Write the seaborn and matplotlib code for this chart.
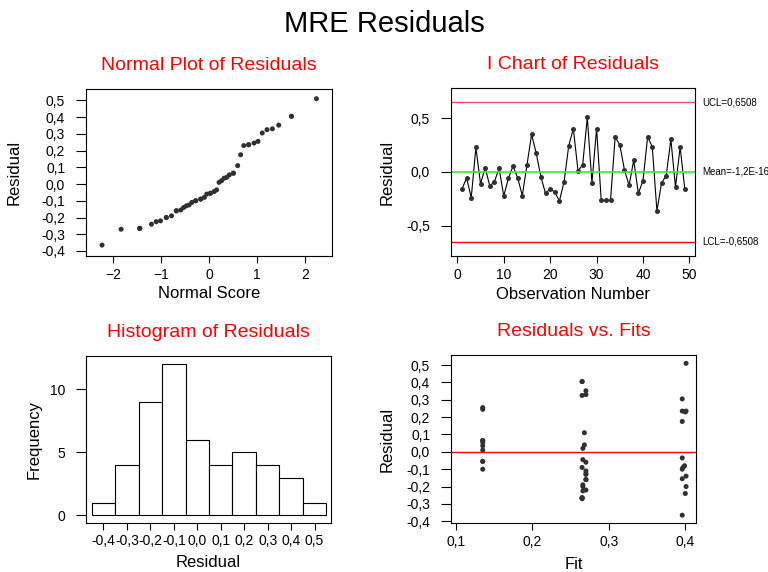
import numpy as np
import pandas as pd
import matplotlib
matplotlib.use("Agg")
import matplotlib.pyplot as plt
import seaborn as sns
from matplotlib.ticker import FuncFormatter
from statistics import NormalDist

# residuals in observation order
residuals = [-0.16, -0.055, -0.24, 0.23, -0.11, 0.04, -0.13, -0.09, 0.035, -0.225,
             -0.06, 0.055, -0.055, -0.22, 0.065, 0.352, 0.175, -0.045, -0.2, -0.155,
             -0.19, -0.27, -0.09, 0.245, 0.405, 0.01, 0.065, 0.51, -0.1, 0.405,
             -0.265, -0.265, -0.265, 0.325, 0.255, 0.02, -0.125, 0.11, -0.2, -0.08,
             0.33, 0.235, -0.365, -0.1, -0.035, 0.305, -0.14, 0.235, -0.16]
fits = [0.27, 0.135, 0.40, 0.40, 0.27, 0.268, 0.27, 0.397, 0.135, 0.266,
        0.27, 0.135, 0.135, 0.27, 0.135, 0.27, 0.396, 0.266, 0.266, 0.396,
        0.266, 0.265, 0.265, 0.135, 0.265, 0.135, 0.135, 0.401, 0.135, 0.265,
        0.265, 0.265, 0.265, 0.265, 0.135, 0.266, 0.27, 0.268, 0.401, 0.399,
        0.27, 0.396, 0.396, 0.396, 0.396, 0.396, 0.401, 0.401, 0.27]
ucl = 0.6508
lcl = -0.6508
hist_bins = [-0.45, -0.35, -0.25, -0.15, -0.05, 0.05, 0.15, 0.25, 0.35, 0.45, 0.55]

n = len(residuals)
df = pd.DataFrame({"obs": np.arange(1, n + 1), "resid": residuals, "fit": fits})
ranks = df["resid"].rank(method="average")
df["nscore"] = [NormalDist().inv_cdf((r - 0.375) / (n + 0.25)) for r in ranks]

sns.set_style("ticks")
plt.rcParams["font.family"] = ["Liberation Sans", "DejaVu Sans"]
plt.rcParams["axes.linewidth"] = 0.8
plt.rcParams["xtick.labelsize"] = 10
plt.rcParams["ytick.labelsize"] = 10
plt.rcParams["axes.labelsize"] = 12
plt.rcParams["text.color"] = "black"
plt.rcParams["axes.labelcolor"] = "black"

comma = FuncFormatter(lambda v, p: f"{v:.1f}".replace(".", ",").replace("-0,0", "0,0"))
intfmt = FuncFormatter(lambda v, p: f"{v:.0f}")
dot_color = "#303030"

fig = plt.figure(figsize=(7.68, 5.72), dpi=100)
fig.suptitle("MRE Residuals", fontsize=21, y=0.983, color="black")

W, H = 768, 572
def box(l, t, r, b):
    return [l / W, 1 - b / H, (r - l) / W, (b - t) / H]

ax1 = fig.add_axes(box(86, 89, 332, 256))
ax2 = fig.add_axes(box(451, 88, 695, 256))
ax3 = fig.add_axes(box(86, 356, 331, 523))
ax4 = fig.add_axes(box(451, 355, 696, 523))

# normal plot
sns.scatterplot(data=df, x="nscore", y="resid", ax=ax1, color=dot_color, s=13,
                edgecolor="none", linewidth=0)
ax1.set_xlim(-2.57, 2.56)
ax1.set_ylim(-0.43, 0.568)
ax1.set_xticks([-2, -1, 0, 1, 2])
ax1.set_yticks(np.arange(-0.4, 0.51, 0.1))
ax1.yaxis.set_major_formatter(comma)
ax1.set_xlabel("Normal Score")
ax1.set_ylabel("Residual")
ax1.set_title("Normal Plot of Residuals", color="red", fontsize=14, pad=14)
ax1.yaxis.set_label_coords(-0.26, 0.5)
ax1.xaxis.set_label_coords(0.5, -0.18)

# I chart
sns.lineplot(data=df, x="obs", y="resid", ax=ax2, color="black", linewidth=0.8,
             marker="o", markersize=3.6, markeredgewidth=0, markerfacecolor=dot_color)
ax2.axhline(ucl, color="#f05050", linewidth=1)
ax2.axhline(lcl, color="red", linewidth=1)
ax2.axhline(0, color="#33ee33", linewidth=1.2)
ax2.set_xlim(-1.36, 51.2)
ax2.set_ylim(-0.785, 0.785)
ax2.set_xticks([0, 10, 20, 30, 40, 50])
ax2.set_yticks([-0.5, 0, 0.5])
ax2.yaxis.set_major_formatter(comma)
ax2.set_xlabel("Observation Number")
ax2.set_ylabel("Residual")
ax2.set_title("I Chart of Residuals", color="red", fontsize=14, pad=14)
ax2.yaxis.set_label_coords(-0.23, 0.5)
ax2.xaxis.set_label_coords(0.5, -0.187)
for yv, txt in [(ucl, "UCL=0,6508"), (0, "Mean=-1,2E-16"), (lcl, "LCL=-0,6508")]:
    ax2.text(1.03, yv, txt, transform=ax2.get_yaxis_transform(), fontsize=7,
             va="center", ha="left", clip_on=False)

# histogram
sns.histplot(x=residuals, bins=hist_bins, ax=ax3, color="white", edgecolor="black",
             linewidth=0.8, alpha=1)
ax3.set_xlim(-0.474, 0.570)
ax3.set_ylim(-0.607, 12.64)
ax3.set_xticks(np.arange(-0.4, 0.51, 0.1))
ax3.xaxis.set_major_formatter(comma)
ax3.set_yticks([0, 5, 10])
ax3.yaxis.set_major_formatter(intfmt)
ax3.set_xlabel("Residual")
ax3.set_ylabel("Frequency")
ax3.set_title("Histogram of Residuals", color="red", fontsize=14, pad=14)
ax3.yaxis.set_label_coords(-0.18, 0.5)
ax3.xaxis.set_label_coords(0.5, -0.19)

# residuals vs fits
sns.scatterplot(data=df, x="fit", y="resid", ax=ax4, color=dot_color, s=13,
                edgecolor="none", linewidth=0)
ax4.axhline(0, color="red", linewidth=1)
ax4.set_xlim(0.0935, 0.414)
ax4.set_ylim(-0.41, 0.558)
ax4.set_xticks([0.1, 0.2, 0.3, 0.4])
ax4.xaxis.set_major_formatter(comma)
ax4.set_yticks(np.arange(-0.4, 0.51, 0.1))
ax4.yaxis.set_major_formatter(comma)
ax4.set_xlabel("Fit")
ax4.set_ylabel("Residual")
ax4.set_title("Residuals vs. Fits", color="red", fontsize=14, pad=14)
ax4.yaxis.set_label_coords(-0.229, 0.5)
ax4.xaxis.set_label_coords(0.5, -0.2)

for ax in [ax1, ax2, ax3, ax4]:
    for sp in ax.spines.values():
        sp.set_visible(True)
        sp.set_color("black")
    ax.tick_params(axis="x", direction="out", length=5, width=0.8, colors="black", pad=4)
    ax.tick_params(axis="y", direction="out", length=7, width=0.8, colors="black", pad=8)
ax3.tick_params(axis="x", pad=3)

fig.savefig("out.png", dpi=100)
